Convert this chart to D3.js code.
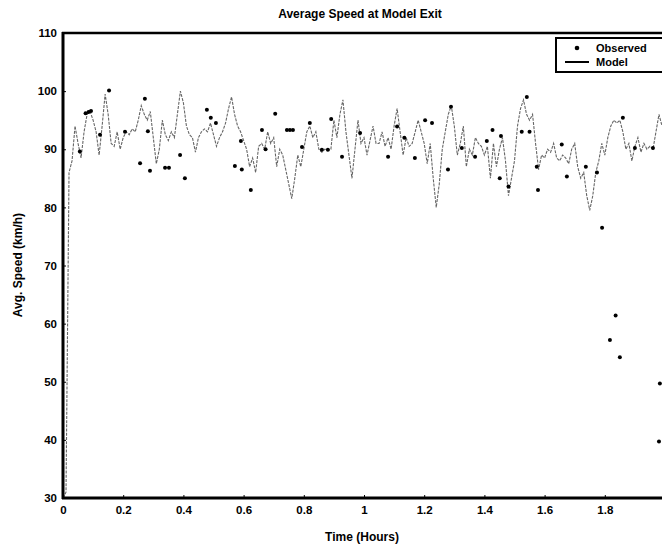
<!DOCTYPE html>
<html><head><meta charset="utf-8">
<script src="https://cdn.jsdelivr.net/npm/d3@7"></script>
<style>
html,body{margin:0;padding:0;background:#fff;}
svg{display:block;font-family:"Liberation Sans",Arial,sans-serif;font-weight:bold;}
</style></head>
<body>
<svg id="chart" width="662" height="553"></svg>
<script>
const title = "Average Speed at Model Exit";
const xLabel = "Time (Hours)";
const yLabel = "Avg. Speed (km/h)";
const xTicks = [0, 0.2, 0.4, 0.6, 0.8, 1, 1.2, 1.4, 1.6, 1.8];
const yTicks = [30, 40, 50, 60, 70, 80, 90, 100, 110];
const seriesNames = ["Observed", "Model"];

const modelTime = [0.00,0.01,0.02,0.03,0.04,0.05,0.06,0.07,0.08,0.09,
0.10,0.11,0.12,0.13,0.14,0.15,0.16,0.17,0.18,0.19,
0.20,0.21,0.22,0.23,0.24,0.25,0.26,0.27,0.28,0.29,
0.30,0.31,0.32,0.33,0.34,0.35,0.36,0.37,0.38,0.39,
0.40,0.41,0.42,0.43,0.44,0.45,0.46,0.47,0.48,0.49,
0.50,0.51,0.52,0.53,0.54,0.55,0.56,0.57,0.58,0.59,
0.60,0.61,0.62,0.63,0.64,0.65,0.66,0.67,0.68,0.69,
0.70,0.71,0.72,0.73,0.74,0.75,0.76,0.77,0.78,0.79,
0.80,0.81,0.82,0.83,0.84,0.85,0.86,0.87,0.88,0.89,
0.90,0.91,0.92,0.93,0.94,0.95,0.96,0.97,0.98,0.99,
1.00,1.01,1.02,1.03,1.04,1.05,1.06,1.07,1.08,1.09,
1.10,1.11,1.12,1.13,1.14,1.15,1.16,1.17,1.18,1.19,
1.20,1.21,1.22,1.23,1.24,1.25,1.26,1.27,1.28,1.29,
1.30,1.31,1.32,1.33,1.34,1.35,1.36,1.37,1.38,1.39,
1.40,1.41,1.42,1.43,1.44,1.45,1.46,1.47,1.48,1.49,
1.50,1.51,1.52,1.53,1.54,1.55,1.56,1.57,1.58,1.59,
1.60,1.61,1.62,1.63,1.64,1.65,1.66,1.67,1.68,1.69,
1.70,1.71,1.72,1.73,1.74,1.75,1.76,1.77,1.78,1.79,
1.80,1.81,1.82,1.83,1.84,1.85,1.86,1.87,1.88,1.89,
1.90,1.91,1.92,1.93,1.94,1.95,1.96,1.97,1.98,1.99];

const modelSpeed = [30,31,86,88,94,91,88.5,93,96,96.5,
95,93,89,94,99.5,96,91,90.5,93,90,
92,93,92.5,93.5,93,95,97.5,96,95,96.5,
92,87.5,90,95,92.5,91.5,93,92,96,100,
98,94,92.5,92,89.5,92,93,93.5,93,94.5,
92.5,90.5,92,93,94.5,97,99,96,94,93,
91.5,90,87,88.5,86,90.5,91,90,93,91,
92,87,90,89,86.5,84,81.5,85,89,87,
90,93,94,92,93,90,89.5,90,89.8,90,
95,92,96,98.5,93,89,85,90,95,91,
92,89,91.5,94,91,91,93,90.5,92,90,
94,97,93,89,92,90.5,91,93,95,93,
91,87.5,91,85,80,84,90,93,96,97.5,
94,89,91,94,87,90,89,92,91,90.5,
89,90.5,85,91,87,90,92,88,82,85,
88,94,97,98.5,96,95,96,91,86.5,89,
88.5,90,89.5,91,88.5,88,89,88.5,87.5,90,
91,87,85,86,82,79.5,82,86,88,91,
89,92,94,95,94.5,95,93,90,91,88,
90.5,92,89.5,91,90,90.5,90,93,96,94];

const obsTime = [0.056,0.075,0.085,0.093,0.123,0.153,0.206,0.256,0.272,0.282,
0.289,0.339,0.352,0.389,0.405,0.478,0.491,0.508,0.571,0.591,
0.594,0.624,0.661,0.673,0.705,0.744,0.754,0.764,0.820,0.794,
0.860,0.880,0.891,0.927,0.987,1.080,1.110,1.134,1.169,1.203,
1.226,1.279,1.289,1.325,1.369,1.408,1.427,1.451,1.455,1.480,
1.524,1.541,1.550,1.574,1.578,1.657,1.674,1.737,1.774,1.860,
1.900,1.960,1.791,1.836,1.817,1.850,1.983,1.980];
const obsSpeed = [89.6,96.2,96.4,96.6,92.5,100.1,93,87.6,98.7,93.1,
86.3,86.8,86.8,89,85,96.8,95.4,94.5,87.1,91.4,
86.5,83,93.3,90,96.1,93.3,93.3,93.3,94.5,90.4,
89.9,89.9,95.2,88.7,92.8,88.7,93.9,92,88.5,95,
94.5,86.5,97.3,90.2,88.7,91.4,93.3,85,92.3,83.6,
93,99,93,87,83,90.8,85.3,87,86,95.4,
90.2,90.2,76.5,61.4,57.2,54.2,49.7,39.7];

const svg = d3.select("#chart");
const margin = {left: 63, top: 33, right: 665, bottom: 498};
const x = d3.scaleLinear().domain([0, 2]).range([margin.left, margin.right]);
const y = d3.scaleLinear().domain([30, 110]).range([margin.bottom, margin.top]);

svg.append("text").attr("x", 360).attr("y", 18).attr("text-anchor", "middle")
  .attr("font-size", 12).text(title);

const modelData = modelTime.map((t, i) => [t, modelSpeed[i]]);
svg.append("path").datum(modelData)
  .attr("fill", "none").attr("stroke", "#666").attr("stroke-width", 1.1)
  .attr("stroke-dasharray", "3,1.2")
  .attr("d", d3.line().x(d => x(d[0])).y(d => y(d[1])));

svg.append("g").selectAll("circle").data(obsTime.map((t, i) => [t, obsSpeed[i]]))
  .join("circle").attr("cx", d => x(d[0])).attr("cy", d => y(d[1]))
  .attr("r", 2).attr("fill", "#000");

const yAxis = d3.axisLeft(y).tickValues(yTicks).tickSize(-3).tickPadding(6).tickFormat(d3.format("d"));
const gy = svg.append("g").attr("transform", `translate(${margin.left},0)`).call(yAxis);
const xAxis = d3.axisBottom(x).tickValues(xTicks).tickSize(-3).tickPadding(8).tickFormat(d => String(d));
const gx = svg.append("g").attr("transform", `translate(0,${margin.bottom})`).call(xAxis);
[gx, gy].forEach(g => {
  g.select(".domain").remove();
  g.selectAll("text").attr("font-size", 11.5).attr("font-weight", "bold").attr("fill", "#000")
    .attr("font-family", '"Liberation Sans",Arial,sans-serif');
  g.selectAll("line").attr("stroke", "#000").attr("stroke-width", 1);
});

svg.append("line").attr("x1", margin.left).attr("x2", margin.left).attr("y1", margin.top - 1).attr("y2", margin.bottom + 1)
  .attr("stroke", "#000").attr("stroke-width", 3);
svg.append("line").attr("x1", margin.left - 1).attr("x2", margin.right).attr("y1", margin.bottom).attr("y2", margin.bottom)
  .attr("stroke", "#000").attr("stroke-width", 3);
svg.append("line").attr("x1", margin.left - 1).attr("x2", margin.right).attr("y1", margin.top).attr("y2", margin.top)
  .attr("stroke", "#000").attr("stroke-width", 2.5);

svg.append("text").attr("x", 362).attr("y", 541).attr("text-anchor", "middle")
  .attr("font-size", 12).text(xLabel);
svg.append("text").attr("transform", "translate(22,265) rotate(-90)").attr("text-anchor", "middle")
  .attr("font-size", 12).text(yLabel);

const lg = svg.append("g");
lg.append("rect").attr("x", 556).attr("y", 38).attr("width", 110).attr("height", 34)
  .attr("fill", "#fff").attr("stroke", "#000").attr("stroke-width", 2);
lg.append("circle").attr("cx", 577).attr("cy", 48).attr("r", 2.3).attr("fill", "#000");
lg.append("line").attr("x1", 565).attr("x2", 589).attr("y1", 62).attr("y2", 62)
  .attr("stroke", "#000").attr("stroke-width", 2);
lg.append("text").attr("x", 596).attr("y", 52).attr("font-size", 11).text(seriesNames[0]);
lg.append("text").attr("x", 596).attr("y", 66).attr("font-size", 11).text(seriesNames[1]);
</script>
</body></html>
